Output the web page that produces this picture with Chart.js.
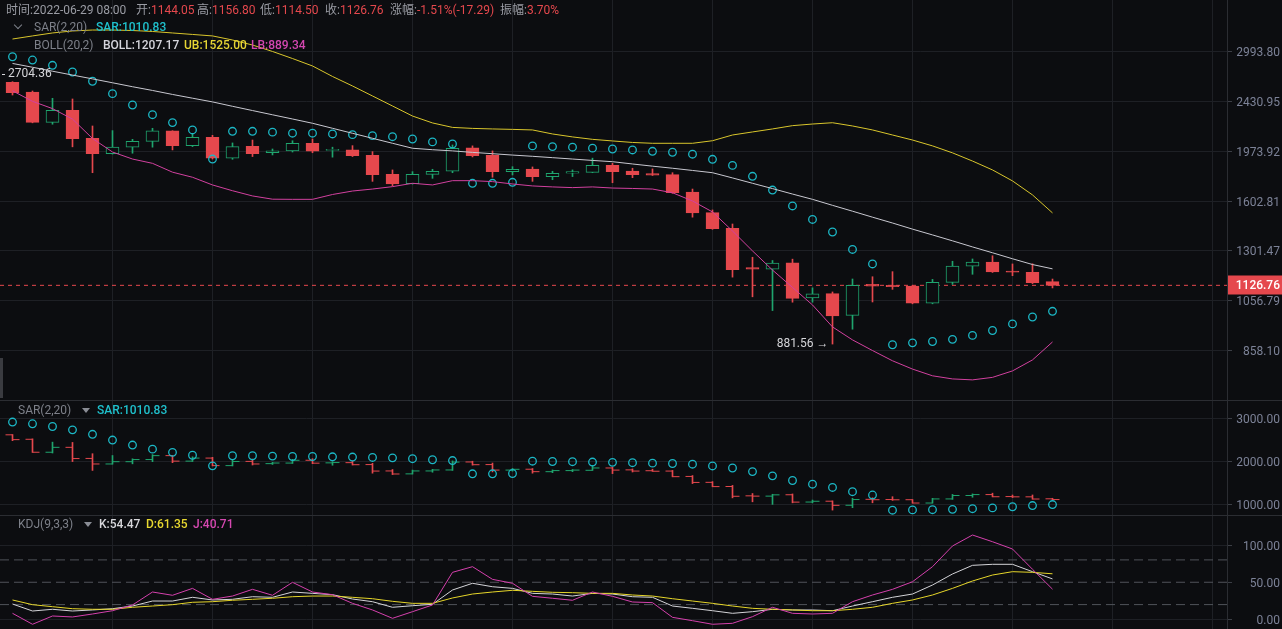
<!DOCTYPE html>
<html lang="zh-CN">
<head>
<meta charset="utf-8">
<title>K线图</title>
<script src="https://cdn.jsdelivr.net/npm/chart.js@4.4.1/dist/chart.umd.min.js"></script>
<style>
  html, body { margin:0; padding:0; background:#0c0d10; }
  body { width:1282px; height:629px; overflow:hidden; position:relative; font-family: Roboto, "Noto Sans CJK SC", sans-serif; font-size:12px; }
  .pane { position:absolute; left:0; width:1282px; }
  .pane canvas { display:block; }
  .sep { position:absolute; left:0; width:1282px; height:1px; background:#2b2d32; }
  .t { position:absolute; white-space:nowrap; line-height:14px; font-size:12px; }
  .g { color:#9a9ca4; }
  .lg { color:#7d8089; }
  .r { color:#e5484d; }
  .b { font-weight:500; }
  .tri { position:absolute; width:0; height:0; border-left:4px solid transparent; border-right:4px solid transparent; border-top:5px solid #8a8d95; }
  .chev { position:absolute; width:5px; height:5px; border-right:1px solid #7d8089; border-bottom:1px solid #7d8089; transform:rotate(45deg); }
</style>
</head>
<body>
<div class="pane" style="top:0;height:400px"><canvas id="c1" width="1282" height="400"></canvas></div>
<div class="sep" style="top:400px"></div>
<div class="pane" style="top:401px;height:114px"><canvas id="c2" width="1282" height="114"></canvas></div>
<div class="sep" style="top:515px"></div>
<div class="pane" style="top:516px;height:113px"><canvas id="c3" width="1282" height="113"></canvas></div>
<div style="position:absolute;left:0;top:358px;width:3px;height:40px;background:#3a3b40"></div>

<!-- title -->
<div class="t" style="left:6px;top:3px"><span class="g">时间:2022-06-29 08:00</span></div>
<div class="t" style="left:136px;top:3px"><span class="g">开:</span><span class="r">1144.05</span></div>
<div class="t" style="left:197px;top:3px"><span class="g">高:</span><span class="r">1156.80</span></div>
<div class="t" style="left:260px;top:3px"><span class="g">低:</span><span class="r">1114.50</span></div>
<div class="t" style="left:325px;top:3px"><span class="g">收:</span><span class="r">1126.76</span></div>
<div class="t" style="left:390px;top:3px"><span class="g">涨幅:</span><span class="r">-1.51%(-17.29)</span></div>
<div class="t" style="left:500px;top:3px"><span class="g">振幅:</span><span class="r">3.70%</span></div>

<!-- main legends -->
<div class="chev" style="left:15px;top:22px"></div>
<div class="t lg" style="left:34px;top:20px">SAR(2,20)</div>
<div class="t b" style="left:96px;top:20px;color:#1fc0cc">SAR:1010.83</div>
<div class="t lg" style="left:34px;top:38px">BOLL(20,2)</div>
<div class="t b" style="left:103px;top:38px;color:#d5d5dc">BOLL:1207.17</div>
<div class="t b" style="left:184px;top:38px;color:#e6d534">UB:1525.00</div>
<div class="t b" style="left:251px;top:38px;color:#d347b0">LB:889.34</div>

<!-- SAR pane legend -->
<div class="t lg" style="left:18px;top:403px">SAR(2,20)</div>
<div class="tri" style="left:82px;top:408px"></div>
<div class="t b" style="left:97px;top:403px;color:#1fc0cc">SAR:1010.83</div>

<!-- KDJ pane legend -->
<div class="t lg" style="left:18px;top:517px">KDJ(9,3,3)</div>
<div class="tri" style="left:84px;top:522px"></div>
<div class="t b" style="left:99px;top:517px;color:#d8d8dc">K:54.47</div>
<div class="t b" style="left:146px;top:517px;color:#e8d830">D:61.35</div>
<div class="t b" style="left:193px;top:517px;color:#d548b0">J:40.71</div>

<script>
// ---------------- data ----------------
const open  = [2632, 2528, 2227, 2341, 2083, 1954, 2007, 2057, 2148, 2020, 2091, 1916, 2014, 1962, 1975, 2040, 1980, 1985, 1940, 1792, 1724, 1792, 1815, 2001, 1940, 1812, 1832, 1775, 1800, 1807, 1861, 1817, 1797, 1789, 1664, 1527, 1430, 1213, 1206, 1238, 1069, 1088, 994, 1132, 1127, 1123, 1046, 1141, 1221, 1242, 1196, 1190, 1144.05];
const high  = [2639, 2538, 2462, 2455, 2193, 2151, 2074, 2172, 2150, 2120, 2109, 2043, 2068, 1992, 2062, 2077, 2007, 2020, 1970, 1825, 1812, 1830, 2026, 2018, 1976, 1850, 1848, 1815, 1825, 1917, 1876, 1838, 1833, 1804, 1685, 1544, 1456, 1267, 1250, 1257, 1115, 1096, 1157, 1168, 1193, 1127, 1155, 1246, 1258, 1275, 1232, 1233, 1156.80];
const low   = [2496, 2222, 2209, 2010, 1804, 1950, 1957, 2007, 1984, 2012, 1910, 1908, 1930, 1943, 1967, 1961, 1925, 1930, 1740, 1707, 1720, 1762, 1804, 1927, 1770, 1787, 1740, 1752, 1775, 1804, 1730, 1767, 1783, 1655, 1498, 1424, 1166, 1074, 1014, 1050, 1050, 881.56, 938, 1051, 1108, 1043, 1043, 1131, 1180, 1189, 1173, 1135, 1114.50];
const close = [2520, 2227, 2341, 2080, 1954, 2007, 2057, 2148, 2020, 2091, 1916, 2012, 1954, 1976, 2040, 1973, 1987, 1937, 1789, 1721, 1792, 1815, 1998, 1937, 1812, 1830, 1775, 1800, 1812, 1861, 1812, 1789, 1785, 1659, 1525, 1428, 1203, 1206, 1236, 1067, 1087, 992, 1127, 1123, 1121, 1046, 1141, 1221, 1242, 1192, 1190, 1139, 1126.76];

const sar = [2929, 2889, 2826, 2748, 2644, 2510, 2394, 2299, 2224, 2157, 1910, 2145, 2145, 2137, 2128, 2128, 2121, 2115, 2106, 2097, 2077, 2052, 2034, 1726, 1726, 1733, 2018, 2012, 2007, 1999, 1992, 1984, 1973, 1965, 1949, 1908, 1860, 1777, 1678, 1570, 1484, 1408, 1309, 1232, 879, 886, 891, 899, 914, 933, 959, 987, 1010.83];

const bollMid = [2848, 2803, 2757, 2713, 2670, 2627, 2584, 2544, 2502, 2463, 2425, 2381, 2339, 2298, 2258, 2218, 2172, 2127, 2083, 2040, 1998, 1986, 1976, 1964, 1953, 1942, 1932, 1921, 1910, 1899, 1889, 1871, 1854, 1838, 1821, 1804, 1765, 1726, 1688, 1650, 1614, 1574, 1536, 1498, 1462, 1425, 1391, 1357, 1323, 1291, 1259, 1229, 1207.17];
const bollUB  = [3154, 3195, 3235, 3262, 3275, 3275, 3268, 3255, 3235, 3215, 3195, 3141, 3076, 2994, 2907, 2818, 2697, 2592, 2486, 2384, 2286, 2221, 2180, 2171, 2166, 2162, 2157, 2121, 2095, 2074, 2060, 2047, 2040, 2040, 2040, 2062, 2112, 2139, 2166, 2196, 2211, 2223, 2193, 2157, 2112, 2068, 2018, 1960, 1894, 1825, 1743, 1644, 1525.00];
const bollLB  = [2540, 2431, 2358, 2257, 2081, 1967, 1910, 1876, 1808, 1770, 1714, 1673, 1637, 1615, 1614, 1614, 1647, 1671, 1685, 1702, 1726, 1714, 1745, 1745, 1738, 1721, 1707, 1700, 1695, 1700, 1692, 1689, 1685, 1659, 1603, 1531, 1414, 1301, 1201, 1117, 1038, 947, 897, 858, 822, 794, 772, 762, 759, 767, 788, 825, 889.34];

const kdjK = [20.8, 11.4, 13.7, 11.4, 12.8, 14.5, 18.1, 24.8, 24.8, 29.8, 26.2, 27.1, 30.6, 29.8, 36.9, 35.1, 33.3, 27.5, 23.9, 16.4, 18.5, 20.4, 39.6, 48.6, 44.0, 41.8, 35.1, 34.2, 31.5, 35.1, 34.2, 30.6, 29.8, 18.1, 15.0, 11.8, 8.3, 10.5, 13.7, 12.8, 12.8, 11.8, 18.1, 23.9, 29.8, 34.2, 46.3, 61.1, 72.7, 74.1, 74.1, 64.2, 54.47];
const kdjD = [26.2, 19.9, 17.2, 14.5, 13.7, 13.7, 16.4, 18.1, 19.9, 23.1, 23.9, 25.8, 27.1, 28.5, 30.6, 31.5, 31.5, 29.8, 27.9, 24.4, 21.7, 21.7, 28.9, 34.2, 36.9, 39.2, 37.8, 36.5, 36.0, 35.1, 35.1, 32.9, 31.5, 27.9, 24.8, 21.7, 18.1, 15.0, 13.7, 12.8, 11.8, 11.8, 13.7, 16.4, 21.7, 26.2, 32.9, 41.8, 51.7, 59.7, 64.2, 63.3, 61.35];
const kdjJ = [8.3, -6.4, 4.7, 3.4, 7.4, 11.8, 19.5, 36.9, 32.5, 41.8, 27.1, 31.5, 40.5, 32.5, 49.9, 36.9, 33.3, 21.7, 12.8, 1.6, 10.5, 19.5, 63.3, 70.9, 53.9, 48.6, 31.1, 28.5, 25.8, 36.9, 31.1, 23.5, 22.6, 2.9, -1.6, -6.4, -5.1, 3.8, 16.4, 8.3, 7.4, 8.3, 23.9, 32.9, 40.5, 50.7, 70.9, 98.7, 113.4, 104.4, 94.6, 67.4, 40.71];

const priceTicks = [858.10, 1056.79, 1301.47, 1602.81, 1973.92, 2430.95, 2993.80];
const sarTicks = [1000, 2000, 3000];
const kdjTicks = [0, 50, 100];
const kdjLevels = [20, 50, 80];
const xGrid = [5, 10, 15, 20, 25, 30, 35, 40, 45, 50, 55, 60];
const lastPrice = 1126.76;
const maxMark = 2704.36;

// ---------------- style ----------------
const RED = '#e5484d', GREEN = '#1fa56e', BG = '#0c0d10', CYAN = '#1cb8c6';
const GRID = '#1e2025', TICKC = '#3b3e45', AXIS = '#2b2d32', LABEL = '#7c8297';
const X_MIN = -0.625, X_MAX = 60.725, TICK_OFF = 0.175;

const pt = arr => arr.map((v, i) => ({ x: i, y: v }));
const up = i => close[i] >= open[i];
const candleColor = c => up(c.dataIndex) ? GREEN : RED;

function xScale() {
  return {
    type: 'linear', min: X_MIN, max: X_MAX, offset: false,
    afterBuildTicks: s => { s.ticks = xGrid.map(v => ({ value: v })); },
    ticks: { display: false },
    grid: { color: GRID, drawTicks: false, offset: false },
    border: { display: false },
    afterFit: s => { s.height = 0; s.paddingLeft = 0; s.paddingRight = 0; }
  };
}
function yScale(extra) {
  return Object.assign({
    position: 'right',
    grid: { color: GRID, drawTicks: true, tickLength: 5, tickColor: TICKC },
    border: { display: true, color: AXIS },
    ticks: { color: LABEL, font: { family: 'Roboto', size: 12 }, padding: 3, crossAlign: 'far', autoSkip: false,
             labelOffset: 1.5, callback: v => Number(v).toFixed(2) },
    afterFit: s => { s.width = 53; s.paddingTop = 0; s.paddingBottom = 0; }
  }, extra);
}
const baseOpts = {
  responsive: false, animation: false, events: [],
  layout: { autoPadding: false, padding: { left: 0, right: 2, top: 0, bottom: 0 } },
  plugins: { legend: { display: false }, tooltip: { enabled: false } }
};

const marks = {
  id: 'marks',
  afterDatasetsDraw(chart) {
    const { ctx, chartArea } = chart;
    const xs = chart.scales.x, ys = chart.scales.y;
    ctx.save();
    // last price tag
    const yy = ys.getPixelForValue(lastPrice);
    ctx.fillStyle = RED;
    ctx.fillRect(chartArea.right + 1, Math.round(yy) - 9.5, chart.width - chartArea.right, 19);
    ctx.fillStyle = '#ffffff';
    ctx.font = '500 12px Roboto';
    ctx.textAlign = 'right';
    ctx.textBaseline = 'middle';
    ctx.fillText(lastPrice.toFixed(2), chart.width - 2, Math.round(yy) + 0.5);
    // lowest low label
    let li = 0;
    low.forEach((v, i) => { if (v < low[li]) li = i; });
    ctx.fillStyle = '#d6d6da';
    ctx.font = '12px Roboto';
    ctx.fillText(low[li].toFixed(2) + ' →', xs.getPixelForValue(li) - 4, ys.getPixelForValue(low[li]));
    // highest mark at left edge
    const ym = ys.getPixelForValue(maxMark) - 2;
    ctx.textAlign = 'left';
    ctx.fillText(maxMark.toFixed(2), chartArea.left + 8, ym);
    ctx.fillRect(chartArea.left + 2, Math.round(ym), 3, 1);
    ctx.restore();
  }
};

// ---------------- main chart ----------------
new Chart(document.getElementById('c1'), {
  type: 'bar',
  data: { datasets: [
    { type: 'line', data: pt(bollMid), borderColor: '#c8c8d0', borderWidth: 1, pointRadius: 0, order: 0 },
    { type: 'line', data: pt(bollUB), borderColor: '#d9c62c', borderWidth: 1, pointRadius: 0, order: 0 },
    { type: 'line', data: pt(bollLB), borderColor: '#d2419f', borderWidth: 1, pointRadius: 0, order: 0 },
    { type: 'line', data: pt(sar), showLine: false, pointRadius: 3.8, pointBorderWidth: 1.3,
      pointBorderColor: CYAN, pointBackgroundColor: 'rgba(0,0,0,0)', order: 1 },
    { data: open.map((o, i) => ({ x: i, y: [o, close[i]] })),
      backgroundColor: c => up(c.dataIndex) ? BG : RED, borderColor: candleColor, borderWidth: 1,
      borderSkipped: false, barThickness: 13, grouped: false, minBarLength: 1, order: 2 },
    { data: low.map((l, i) => ({ x: i, y: [l, high[i]] })),
      backgroundColor: candleColor, borderWidth: 0, barThickness: 1, grouped: false, order: 3 },
    { type: 'line', data: [{ x: X_MIN, y: lastPrice }, { x: X_MAX, y: lastPrice }],
      borderColor: RED, borderWidth: 1, borderDash: [4, 4], pointRadius: 0, order: 4 }
  ]},
  options: Object.assign({}, baseOpts, {
    scales: {
      x: xScale(),
      y: yScale({ type: 'logarithmic', min: 697.76, max: 3712.7,
        afterBuildTicks: s => { s.ticks = priceTicks.map(v => ({ value: v })); } })
    }
  }),
  plugins: [marks]
});

// ---------------- SAR pane ----------------
new Chart(document.getElementById('c2'), {
  type: 'bar',
  data: { datasets: [
    { type: 'line', data: pt(sar), showLine: false, pointRadius: 3.8, pointBorderWidth: 1.3,
      pointBorderColor: CYAN, pointBackgroundColor: 'rgba(0,0,0,0)', order: 0 },
    { type: 'line', data: open.map((v, i) => ({ x: i - TICK_OFF, y: v })), showLine: false,
      pointStyle: 'line', pointRadius: 3.5, pointBorderWidth: 1, pointBorderColor: candleColor, order: 1 },
    { type: 'line', data: close.map((v, i) => ({ x: i + TICK_OFF, y: v })), showLine: false,
      pointStyle: 'line', pointRadius: 3.5, pointBorderWidth: 1, pointBorderColor: candleColor, order: 1 },
    { data: low.map((l, i) => ({ x: i, y: [l, high[i]] })),
      backgroundColor: candleColor, borderWidth: 0, barThickness: 1, grouped: false, minBarLength: 1, order: 2 }
  ]},
  options: Object.assign({}, baseOpts, {
    scales: {
      x: xScale(),
      y: yScale({ type: 'linear', min: 767.4, max: 3418.6,
        afterBuildTicks: s => { s.ticks = sarTicks.map(v => ({ value: v })); } })
    }
  })
});

// ---------------- KDJ pane ----------------
const levelSets = kdjLevels.map(v => ({
  type: 'line', data: [{ x: X_MIN, y: v }, { x: X_MAX, y: v }],
  borderColor: '#50535a', borderWidth: 1, borderDash: [9, 5], pointRadius: 0, order: 5
}));
new Chart(document.getElementById('c3'), {
  type: 'line',
  data: { datasets: [
    { data: pt(kdjK), borderColor: '#d4d4d8', borderWidth: 1, pointRadius: 0, order: 2 },
    { data: pt(kdjD), borderColor: '#e6d62a', borderWidth: 1, pointRadius: 0, order: 1 },
    { data: pt(kdjJ), borderColor: '#d541ad', borderWidth: 1, pointRadius: 0, order: 0 }
  ].concat(levelSets)},
  options: Object.assign({}, baseOpts, {
    scales: {
      x: xScale(),
      y: yScale({ type: 'linear', min: -12.75, max: 138.93,
        afterBuildTicks: s => { s.ticks = kdjTicks.map(v => ({ value: v })); },
        grid: { color: c => (c.tick && c.tick.value === 50) ? 'rgba(0,0,0,0)' : GRID,
                drawTicks: true, tickLength: 5, tickColor: TICKC } })
    }
  })
});
</script>
</body>
</html>
